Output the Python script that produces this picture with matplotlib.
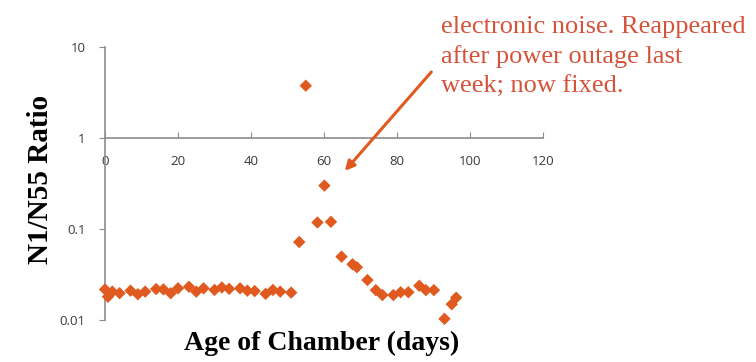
import numpy as np
import matplotlib.pyplot as plt
from matplotlib.ticker import FixedLocator, NullLocator

# chamber age (days) and N1/N55 ratio
days = [0, 0.8, 2, 4, 7, 9, 11, 14, 16, 18, 20, 23, 25, 27, 30, 32, 34, 37, 39,
        41, 44, 46, 48, 51,
        53.2, 55, 58.2, 60.1, 61.9, 64.8, 67.8, 69, 71.9, 74.2, 76, 79, 81, 83.1,
        86.1, 87.9, 90.1, 93, 95, 96.2]
ratio = [0.0217, 0.018, 0.0205, 0.0197, 0.021, 0.0192, 0.0205, 0.0219, 0.0217,
         0.0197, 0.0223, 0.0232, 0.0205, 0.0223, 0.0214, 0.0228, 0.022, 0.0223,
         0.021, 0.0208, 0.0194, 0.0214, 0.0205, 0.02,
         0.072, 3.76, 0.118, 0.30, 0.12, 0.0497, 0.041, 0.038, 0.0275, 0.0213,
         0.0188, 0.0188, 0.0202, 0.0202, 0.0238, 0.0213, 0.0213, 0.0103, 0.0149,
         0.0176]

xticks = [0, 20, 40, 60, 80, 100, 120]
yticks = [0.01, 0.1, 1, 10]
ylabels = ['0.01', '0.1', '1', '10']

note_lines = ["electronic noise. Reappeared",
              "after power outage last",
              "week; now fixed."]

orange = '#e05a20'
red_txt = '#d4533a'
grey = '#8c8c8c'

fig = plt.figure(figsize=(7.56, 3.62), dpi=100)
ax = fig.add_axes([0.1389, 0.116, 0.5794, 0.754])

ax.scatter(days, ratio, marker='D', s=40, color=orange, edgecolors='none',
           zorder=3, clip_on=False)

ax.set_yscale('log')
ax.set_xlim(0, 120)
ax.set_ylim(0.01, 10)

ax.spines['top'].set_visible(False)
ax.spines['right'].set_visible(False)
ax.spines['bottom'].set_position(('data', 1))
for s in ['left', 'bottom']:
    ax.spines[s].set_color(grey)
    ax.spines[s].set_linewidth(1.2)

ax.xaxis.set_major_locator(FixedLocator(xticks))
ax.yaxis.set_major_locator(FixedLocator(yticks))
ax.yaxis.set_minor_locator(NullLocator())
ax.set_yticklabels(ylabels)
ax.tick_params(axis='x', direction='in', length=4, color=grey, pad=12,
               labelsize=9.5, labelcolor='#3a3a3a')
ax.tick_params(axis='y', direction='out', length=4, color=grey, pad=10,
               labelsize=9.5, labelcolor='#3a3a3a')
for lab in ax.get_xticklabels() + ax.get_yticklabels():
    lab.set_family('Open Sans')

fig.text(0.426, 0.052, 'Age of Chamber (days)', ha='center', va='center',
         fontsize=20, fontweight='bold', family='Liberation Serif')
fig.text(0.054, 0.503, 'N1/N55 Ratio', ha='center', va='center', rotation=90,
         fontsize=21, fontweight='bold', family='Liberation Serif')

for i, line in enumerate(note_lines):
    fig.text(0.583, 1 - (33 + 30 * i) / 362, line, ha='left', va='baseline',
             fontsize=19, color=red_txt, family='Liberation Serif')

ax.annotate('', xy=(0.4537, 0.522), xycoords='figure fraction',
            xytext=(0.573, 0.807), textcoords='figure fraction',
            arrowprops=dict(arrowstyle='-|>', color=orange, lw=2.2,
                            mutation_scale=14))

fig.savefig('out.png', dpi=100)
